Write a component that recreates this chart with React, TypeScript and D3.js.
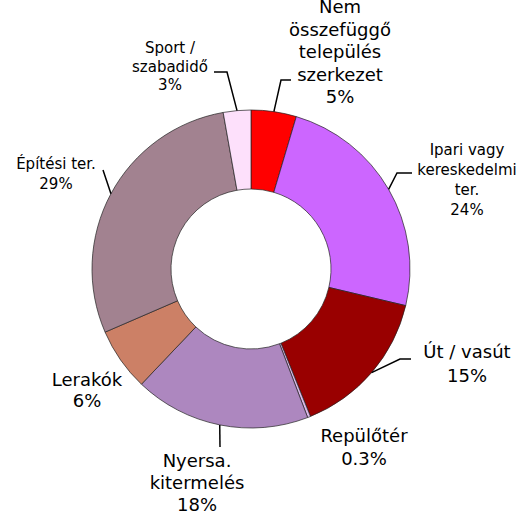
import React, { useEffect, useRef } from 'react';
import * as d3 from 'd3';

// slices, clockwise from 12 o'clock
const categories = [
  'Nem összefüggő település szerkezet',
  'Ipari vagy kereskedelmi ter.',
  'Út / vasút',
  'Repülőtér',
  'Nyersa. kitermelés',
  'Lerakók',
  'Építési ter.',
  'Sport / szabadidő',
];
const values = [4.6, 24.1, 15.2, 0.3, 17.9, 6.4, 28.7, 2.8];
const percentLabels = ['5%', '24%', '15%', '0.3%', '18%', '6%', '29%', '3%'];
const labelLines = [
  ['Nem', 'összefüggő', 'település', 'szerkezet'],
  ['Ipari vagy', 'kereskedelmi', 'ter.'],
  ['Út / vasút'],
  ['Repülőtér'],
  ['Nyersa.', 'kitermelés'],
  ['Lerakók'],
  ['Építési ter.'],
  ['Sport /', 'szabadidő'],
];
const colors = ['#ff0000', '#cc66ff', '#990000', '#dcb8e8', '#ad87bf', '#cc8066', '#a28290', '#fde0fb'];

// label placement (layout only)
const labelLayout = [
  { x: 340, y: 13, lh: 22.5, size: 18, elbow: [281, 80], end: [291, 80] },
  { x: 467, y: 155, lh: 20, size: 15, elbow: [397, 173], end: [412, 173] },
  { x: 467, y: 358, lh: 24, size: 18, elbow: [400, 359], end: [411, 359] },
  { x: 364, y: 442, lh: 23, size: 18, elbow: null, end: null },
  { x: 197, y: 467, lh: 22, size: 18, elbow: [220, 447], end: null },
  { x: 87, y: 386, lh: 21, size: 18, elbow: null, end: null },
  { x: 56, y: 169, lh: 20, size: 15, elbow: [103, 170], end: null },
  { x: 170, y: 53, lh: 18.5, size: 15, elbow: [227, 72], end: [214, 72] },
];

const width = 529, height = 519;
const cx = 251, cy = 269;
const outerR = 159, innerR = 80;

const App = () => {
  const ref = useRef<SVGSVGElement | null>(null);

  useEffect(() => {
    const svg = d3.select(ref.current);
    svg.selectAll('*').remove();

    const data = categories.map((c, i) => ({ name: c, value: values[i], i }));
    const pie = d3.pie<any>().value(d => d.value).sort(null);
    const arcs = pie(data);
    const arc = d3.arc<any>().innerRadius(innerR).outerRadius(outerR);

    const g = svg.append('g').attr('transform', `translate(${cx},${cy})`);

    g.selectAll('path.slice')
      .data(arcs)
      .enter()
      .append('path')
      .attr('class', 'slice')
      .attr('d', arc)
      .attr('fill', d => colors[d.data.i])
      .attr('stroke', '#222')
      .attr('stroke-width', 0.7);

    // leader lines from the outer edge of each slice
    arcs.forEach(d => {
      const lay = labelLayout[d.data.i];
      if (!lay.elbow) return;
      const mid = (d.startAngle + d.endAngle) / 2;
      const pts: [number, number][] = [
        [cx + outerR * Math.sin(mid), cy - outerR * Math.cos(mid)],
        lay.elbow as [number, number],
      ];
      if (lay.end) pts.push(lay.end as [number, number]);
      svg.append('path')
        .attr('d', d3.line()(pts))
        .attr('fill', 'none')
        .attr('stroke', '#000')
        .attr('stroke-width', 1.5);
    });

    // labels
    arcs.forEach(d => {
      const i = d.data.i;
      const lay = labelLayout[i];
      const lines = [...labelLines[i], percentLabels[i]];
      const t = svg.append('text')
        .attr('text-anchor', 'middle')
        .attr('font-family', '"DejaVu Sans", Verdana, sans-serif')
        .attr('font-size', lay.size)
        .attr('fill', '#000');
      lines.forEach((l, k) => {
        t.append('tspan')
          .attr('x', lay.x)
          .attr('y', lay.y + k * lay.lh)
          .text(l);
      });
    });
  }, []);

  return (
    <svg
      ref={ref}
      width={width}
      height={height}
      style={{ position: 'absolute', left: 0, top: 0, background: '#fff' }}
    />
  );
};

export default App;
